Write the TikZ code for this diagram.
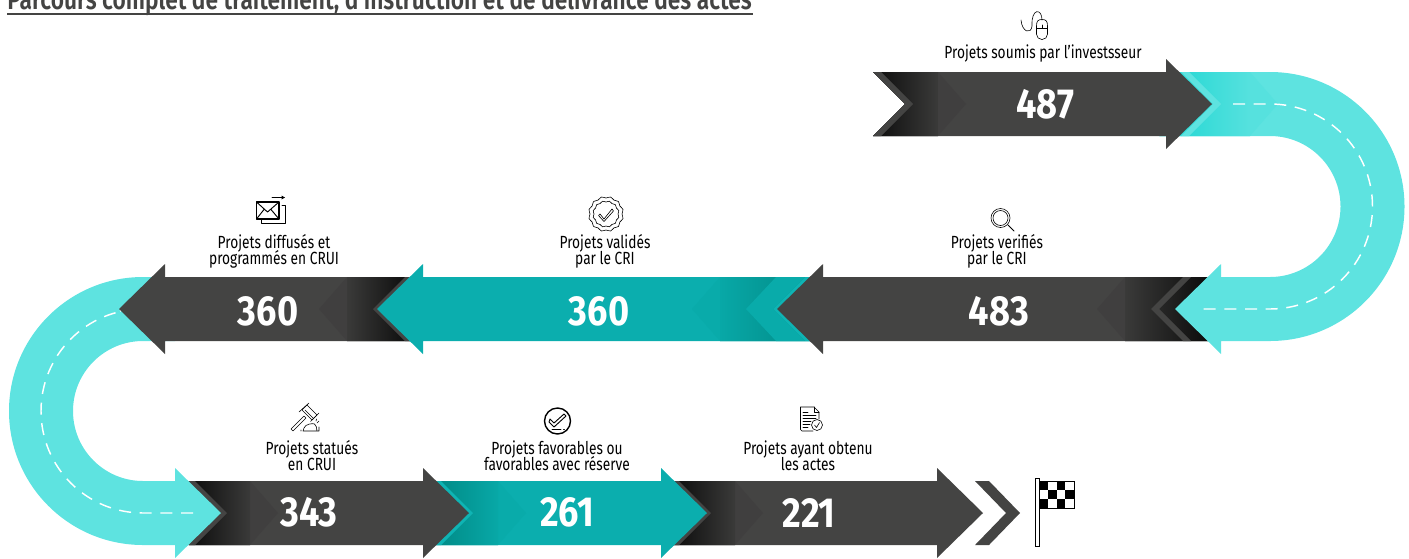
\documentclass[tikz,border=0pt]{standalone}
\usepackage{fontspec}
\setmainfont{Fira Sans}
\newfontfamily\lblfont[FakeStretch=0.78]{Fira Sans}
\newfontfamily\numfont[FakeStretch=0.86]{Fira Sans Bold}
\newfontfamily\ttlfont[FakeStretch=0.80]{Fira Sans SemiBold}
\definecolor{cyanroad}{HTML}{5EE3E0}
\definecolor{cyanbright}{HTML}{1CD6D2}
\definecolor{cyanmid}{HTML}{56E1DE}
\definecolor{darkbody}{HTML}{444443}
\definecolor{darkchev}{HTML}{403F3F}
\definecolor{darkend}{HTML}{3A3A39}
\definecolor{darkblack}{HTML}{0C0C0C}
\definecolor{tealbody}{HTML}{0BAEAE}
\definecolor{tealchev}{HTML}{09ABAA}
\definecolor{tealend}{HTML}{08A8A7}
\definecolor{tealdark}{HTML}{018A86}
\definecolor{tealband}{HTML}{0FB4B4}
\newcommand\lblsetup{\lblfont\fontsize{13.2pt}{12pt}\selectfont}
\setlength{\lineskip}{0pt}
\setlength{\lineskiplimit}{-10pt}
\tikzset{
  lbl/.style={font=\lblsetup,align=center,text=black,inner sep=0pt},
  numlbl/.style={font=\numfont\fontsize{31.5pt}{30pt}\selectfont,text=white,inner sep=0pt},
  ico/.style={draw=black,line width=0.7pt,line cap=round,line join=round},
  icothin/.style={draw=black,line width=0.45pt,line cap=round,line join=round},
  roaddash/.style={draw=white,line width=1.1pt,dash pattern=on 9pt off 6.5pt}
}
% band tip x, dir, yc, dk, endcol, chev, band, g, tl
\newcommand\gradpart[9]{%
  \ifnum#2<0 \def\lcol{#5}\def\rcol{#4}\else\def\lcol{#4}\def\rcol{#5}\fi
  \begin{scope}[shift={(#1,#3)},xscale=#2]
    \fill[#6] (-#9,-32) -- (#8,-32) -- ({#8+28},0) -- (#8,32) -- (-#9,32) -- ({-#9+32},0) -- cycle;
    \shade[left color=\lcol,right color=\rcol] (-#9,-32) -- (#8,-32) -- (#8,32) -- (-#9,32) -- ({-#9+32},0) -- cycle;
    \fill[#7] (-32,-32) -- (0,0) -- (-32,32) -- (-40,32) -- (-8,0) -- (-40,-32) -- cycle;
  \end{scope}}
% band tip x, dir, yc, head base, body, tl
\newcommand\bodypart[6]{%
  \fill[#5,shift={(#1,#3)},xscale=#2] (-#6,-32) -- (#4,-32) -- (#4,-45) -- ({#4+46},0) -- (#4,45) -- (#4,32) -- (-#6,32) -- ({-#6+32},0) -- cycle;}
\newcommand\darkseg[5]{% tip,dir,yc,base,tl ; g via \gval
  \bodypart{#1}{#2}{#3}{#4}{darkbody}{#5}\gradpart{#1}{#2}{#3}{darkblack}{darkend}{darkchev}{darkbody}{\gval}{#5}}
\newcommand\tealseg[5]{%
  \bodypart{#1}{#2}{#3}{#4}{tealbody}{#5}\gradpart{#1}{#2}{#3}{tealdark}{tealend}{tealchev}{tealband}{\gval}{#5}}
\begin{document}
\begin{tikzpicture}[x=0.75pt,y=-0.75pt]
\useasboundingbox (0,0) rectangle (1409,558);
% title
\node[anchor=base west,inner sep=0pt,text=darkbody,font=\ttlfont\fontsize{21.3pt}{22pt}\selectfont] (title) at (7,9) {Parcours complet de traitement, d’instruction et de délivrance des actes};
\draw[darkbody,line width=1.5pt] (7,13.5) -- (753,13.5);

% row 3
\def\gval{24}\darkseg{711}{1}{513}{226}{38}
\def\gval{25}\tealseg{473}{1}{513}{188}{37}
\def\gval{23}\darkseg{227}{1}{513}{196}{38}
% left road
\fill[cyanroad] (175,558) -- (221,513) -- (175,468) -- (175,481) -- (143,481)
  arc[start angle=90,end angle=270,radius=70] -- (175,341) -- (175,277) -- (143,277)
  arc[start angle=270,end angle=90,radius=134] -- (175,545) -- cycle;
\draw[roaddash] (193,513) -- (143,513) arc[start angle=90,delta angle=180,radius=102] -- (120,311);
% row 2
\def\gval{26}\darkseg{373}{-1}{309}{208}{37}
\def\gval{53}\tealseg{773}{-1}{309}{350}{38}
\fill[tealchev] (746,309) -- (776,277) -- (805,277) -- (773,309) -- (805,341) -- (776,341) -- cycle;
\def\gval{26}\darkseg{1151}{-1}{309}{328}{57}
% right road
\fill[cyanroad] (1221,354) -- (1175,309) -- (1221,264) -- (1221,277) -- (1270,277)
  arc[start angle=90,end angle=-90,radius=70.5] -- (1160,136) -- (1160,72) -- (1270,72)
  arc[start angle=-90,end angle=90,radius=134.5] -- (1221,341) -- cycle;
\gradpart{1221}{1}{104}{cyanbright}{cyanmid}{cyanmid}{cyanroad}{29}{62}
\draw[roaddash] (1233,104) -- (1270,104) arc[start angle=-90,delta angle=180,radius=102.5] -- (1198,309);
% row 1
\def\gval{25}\darkseg{913}{1}{104}{253}{40}

% numbers
\node[numlbl] (n487) at (1045,104.5) {487};
\node[numlbl] (n483) at (999,311.5) {483};
\node[numlbl] (n360b) at (599,311.5) {360};
\node[numlbl] (n360a) at (268,311.5) {360};
\node[numlbl] (n343) at (309,512.5) {343};
\node[numlbl] (n261) at (567,512.5) {261};
\node[numlbl] (n221) at (809,512.5) {221};
% labels
\node[lbl] (l1) at (1043,54) {Projets soumis par l’investsseur};
\node[lbl] (l2) at (997,251) {Projets verifiés\\par le CRI};
\node[lbl] (l3) at (605,251) {Projets validés\\par le CRI};
\node[lbl] (l4) at (274,251) {Projets diffusés et\\programmés en CRUI};
\node[lbl] (l5) at (312,456) {Projets statués\\en CRUI};
\node[lbl] (l6) at (557,456) {Projets favorables ou\\favorables avec réserve};
\node[lbl] (l7) at (808,456) {Projets ayant obtenu\\les actes};

% end chevron
\fill[darkbody] (975,481) -- (989,481) -- (1020,513) -- (989,545) -- (975,545) -- (1006,513) -- cycle;
% flag
\draw[black,line width=0.6pt,fill=white] (1035.5,478) rectangle (1039,546);
\foreach \r/\c in {0/0,0/2,1/1,1/3,2/0,2/2}
  \fill[black] ({1039+\c*8.8},{481+\r*9}) rectangle ++(8.8,9);
\draw[black,line width=0.5pt] (1039,481) rectangle (1074,508);

% mouse icon
\draw[icothin,rounded corners=4pt] (1036.5,26) -- (1036.5,39.5) -- (1047.5,39.5) -- (1047.5,26);
\draw[icothin] (1036.5,26) .. controls (1036.5,21) and (1038,19.5) .. (1042,19.5) .. controls (1046,19.5) and (1047.5,21) .. (1047.5,26);
\draw[icothin] (1036.5,28) -- (1047.5,28);
\draw[icothin] (1042,25) -- (1042,28);
\draw[icothin] (1021,20) .. controls (1022,32) and (1031,35) .. (1032,26) .. controls (1031,8) and (1042,8) .. (1042,20);
% magnifier icon
\draw[icothin] (1000.5,218) circle[radius=9.5];
\draw[icothin] (1000.5,218) circle[radius=7.5];
\draw[ico] (1008,225) -- (1014,231);
% badge icon
\draw[icothin] plot[smooth cycle,samples=24,domain=0:345,variable=\a] ({606+(16+(mod(round(\a/15),2)*1.6))*cos(\a)},{214+(16+(mod(round(\a/15),2)*1.6))*sin(\a)});
\draw[icothin] plot[smooth cycle,samples=24,domain=0:345,variable=\a] ({606+(12+(mod(round(\a/15),2)*1.2))*cos(\a)},{214+(12+(mod(round(\a/15),2)*1.2))*sin(\a)});
\draw[icothin] (600,214) -- (604,219) -- (612,209) -- (613.5,211) -- (604,221.5) -- (598.5,215.5) -- cycle;
% envelope icon
\draw[ico,line width=1pt] (256.5,202) rectangle (279,219);
\draw[ico] (256.5,202) -- (267.5,212) -- (279,202) (256.5,219) -- (264,209.5) (279,219) -- (271,209.5);
\draw[ico] (282,205.5) -- (285,205.5) -- (285,223) -- (261,223) -- (261,219);
\draw[ico] (272,197.5) -- (284,197.5);
\fill[black] (285,197.5) -- (281.5,195.5) -- (281.5,199.5) -- cycle;
% gavel icon
\draw[icothin] (291,429) -- (304,416) -- (306,418) -- (293,431) -- cycle;
\draw[icothin] (302,410) -- (307,405) -- (317,415) -- (312,420) -- cycle;
\draw[icothin] (299,412) -- (309,403) (310.5,421.5) -- (319,413) (305,410) -- (313,418);
\draw[icothin] (303,431) -- (304,428) .. controls (305,424) and (313,423) .. (314.5,424) .. controls (316,425) and (317,428) .. (317,431) (303,431) -- (319,431) -- (319,427) (301,431) -- (301,430);
\draw[icothin] (317,423) -- (319,421) (316,421) -- (316.5,419);
% check circle icon
\draw[ico,line width=1.05pt] (557.5,421) circle[radius=13];
\draw[ico] (550,419) -- (554,423) -- (564,414) -- (566,416) -- (554,427) -- (549,422) -- cycle;
\draw[ico] (552,429) -- (561,429) (563.5,429) -- (564.5,429);
% document icon
\draw[icothin] (813,431) -- (802,431) -- (800.5,429.5) -- (800.5,407) -- (814,407) -- (819,412) -- (819,419);
\draw[icothin] (814,407) -- (814,412) -- (819,412);
\draw[icothin] (803,412) -- (808,412) (803,415) -- (816,415) (803,418) -- (816,418) (803,421) -- (811,421) (803,424) -- (810,424) (803,427) -- (808,427);
\draw[icothin] (817,425) circle[radius=5.5];
\draw[icothin] (814.5,425) -- (816.5,427.5) -- (819.5,422.5);
\end{tikzpicture}
\end{document}
